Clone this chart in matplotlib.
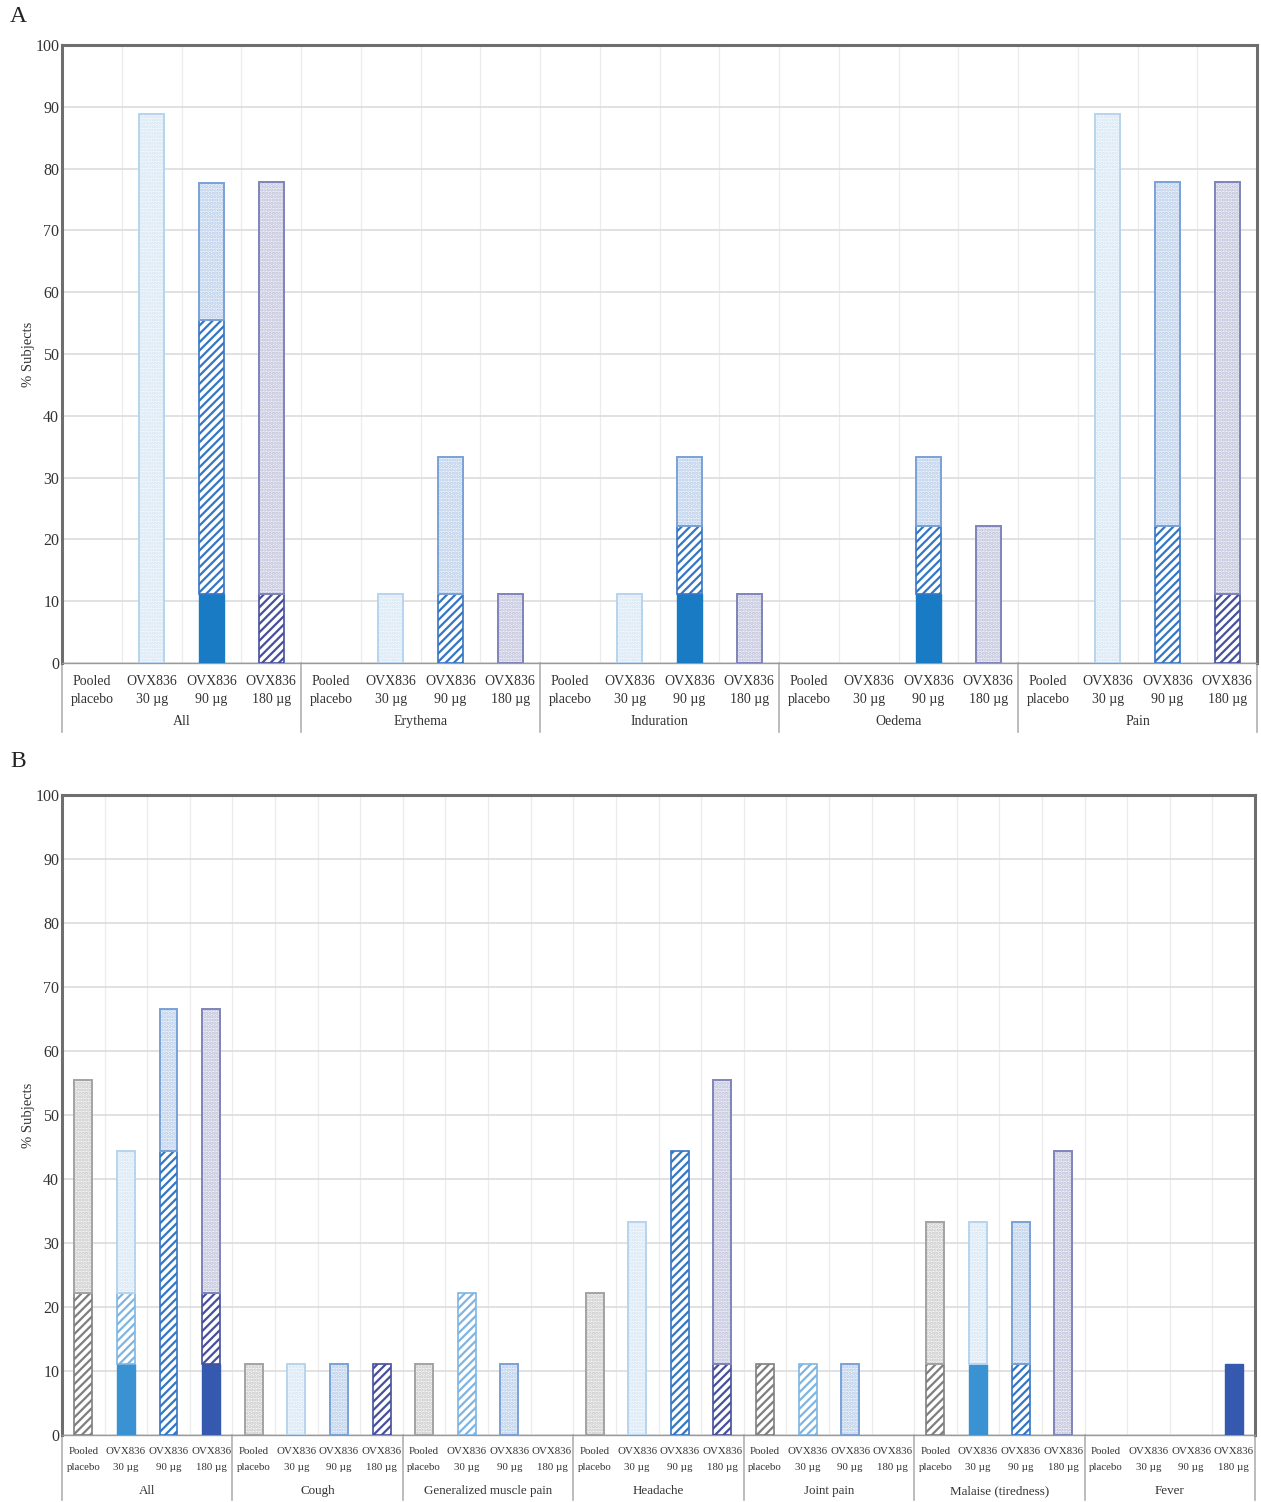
import matplotlib
matplotlib.use("Agg")
import matplotlib.pyplot as plt
import matplotlib.transforms as mtransforms
import numpy as np

# ----------------------------
# Data (% subjects, n=9 per group)
# ----------------------------
doses = ["Pooled\nplacebo", "OVX836\n30 µg", "OVX836\n90 µg", "OVX836\n180 µg"]

a_groups = ["All", "Erythema", "Induration", "Oedema", "Pain"]
a_severe = [0, 0, 11.1, 0,   0, 0, 0, 0,   0, 0, 11.1, 0,   0, 0, 11.1, 0,   0, 0, 0, 0]
a_moderate = [0, 0, 44.4, 11.1,   0, 0, 11.1, 0,   0, 0, 11.1, 0,   0, 0, 11.1, 0,   0, 0, 22.2, 11.1]
a_mild = [0, 88.9, 22.2, 66.7,   0, 11.1, 22.2, 11.1,   0, 11.1, 11.1, 11.1,   0, 0, 11.1, 22.2,   0, 88.9, 55.6, 66.7]

b_groups = ["All", "Cough", "Generalized muscle pain", "Headache", "Joint pain",
            "Malaise (tiredness)", "Fever"]
b_severe = [0, 11.1, 0, 11.1,   0, 0, 0, 0,   0, 0, 0, 0,   0, 0, 0, 0,
            0, 0, 0, 0,   0, 11.1, 0, 0,   0, 0, 0, 11.1]
b_moderate = [22.2, 11.1, 44.4, 11.1,   0, 0, 0, 11.1,   0, 22.2, 0, 0,   0, 0, 44.4, 11.1,
              11.1, 11.1, 0, 0,   11.1, 0, 11.1, 0,   0, 0, 0, 0]
b_mild = [33.3, 22.2, 22.2, 44.4,   11.1, 11.1, 11.1, 0,   11.1, 0, 11.1, 0,   22.2, 33.3, 0, 44.4,
          0, 0, 11.1, 0,   22.2, 22.2, 22.2, 44.4,   0, 0, 0, 0]

# ----------------------------
# Styles per dose group
# ----------------------------
mild_edge = ["#a3a3a3", "#b7d4ee", "#79a2d8", "#7f84ba"]
hatch_cols = ["#7f7f7f", "#7fb5e2", "#3576c4", "#46509c"]
mild_face = ["#f4f4f4", "#f5f9fd", "#edf2f9", "#efeff5"]
mild_dot = ["#c6c6c6", "#d3e4f4", "#b4cbe9", "#babdda"]
severe_cols = ["#888888", "#3a92d3", "#1a7bc5", "#3559ae"]

plt.rcParams['font.family'] = ['Liberation Serif', 'DejaVu Serif']
plt.rcParams['hatch.linewidth'] = 1.6

fig = plt.figure(figsize=(12.61, 15.02), dpi=100)
W, H = 1261, 1502


def draw_panel(rect, groups, severe, moderate, mild, label_fs, group_fs, sep_len, lsp, grp_off):
    ax = fig.add_axes(rect)
    n = len(severe)
    x = np.arange(n)
    sev = np.array(severe)
    mod = np.array(moderate)
    mil = np.array(mild)
    width = 0.42
    for i in range(n):
        d = i % 4
        if sev[i] > 0:
            ax.bar(x[i], sev[i], width, color=severe_cols[d],
                   edgecolor=severe_cols[d], linewidth=1, zorder=3)
        if mod[i] > 0:
            ax.bar(x[i], mod[i], width, bottom=sev[i], color="white",
                   edgecolor=hatch_cols[d], hatch="////", linewidth=0, zorder=3)
            ax.bar(x[i], mod[i], width, bottom=sev[i], fill=False,
                   edgecolor=hatch_cols[d], linewidth=1.2, zorder=4)
        if mil[i] > 0:
            ax.bar(x[i], mil[i], width, bottom=sev[i] + mod[i], color=mild_face[d],
                   edgecolor=mild_dot[d], hatch=".....", linewidth=0, zorder=3)
            ax.bar(x[i], mil[i], width, bottom=sev[i] + mod[i], fill=False,
                   edgecolor=mild_edge[d], linewidth=1.4, zorder=4)

    ax.set_xlim(-0.5, n - 0.5)
    ax.set_ylim(0, 100)
    ax.set_yticks(np.arange(0, 101, 10))
    ax.set_xticks(np.arange(-0.5, n, 0.5), minor=True)
    ax.grid(axis='y', color="#dcdcdc", linewidth=1.2, zorder=0)
    ax.grid(axis='x', which='minor', color="#ececec", linewidth=0.9, zorder=0)
    ax.set_axisbelow(True)

    ax.set_xticks(x)
    ax.set_xticklabels([doses[i % 4] for i in range(n)], fontsize=label_fs,
                       color="#333333", linespacing=lsp)
    ax.tick_params(axis='x', which='both', length=0, pad=9)
    ax.tick_params(axis='y', length=0, pad=2, labelsize=11.5, labelcolor="#333333")
    ax.set_ylabel("% Subjects", fontsize=10.5, color="#333333", labelpad=0)

    for s in ["left", "top", "right"]:
        ax.spines[s].set_color("#6e6e6e")
        ax.spines[s].set_linewidth(2.2)
    ax.spines["bottom"].set_color("#9a9a9a")
    ax.spines["bottom"].set_linewidth(1.0)

    trans = mtransforms.blended_transform_factory(ax.transData, ax.transAxes)
    h_ax = rect[3] * H
    for g in range(len(groups) + 1):
        xs = g * 4 - 0.5
        ax.plot([xs, xs], [0, -sep_len / h_ax], transform=trans, color="#b0b0b0",
                linewidth=1.2, clip_on=False)
    for g, name in enumerate(groups):
        ax.text(g * 4 + 1.5, -grp_off / h_ax, name, transform=trans,
                ha='center', va='center', fontsize=group_fs, color="#333333")
    return ax


# Panel A
a_rect = [62 / W, 1 - 663 / H, (1257 - 62) / W, (663 - 45) / H]
draw_panel(a_rect, a_groups, a_severe, a_moderate, a_mild, 10, 10, 69, 1.45, 59)
fig.text(10 / W, 1 - 16 / H, "A", fontsize=17, va='center', ha='left', color="#222222")

# Panel B
b_rect = [62 / W, 1 - 1435 / H, (1255 - 62) / W, (1435 - 795) / H]
draw_panel(b_rect, b_groups, b_severe, b_moderate, b_mild, 7.8, 9.4, 65, 1.9, 56)
fig.text(10 / W, 1 - 762 / H, "B", fontsize=17, va='center', ha='left', color="#222222")

plt.savefig("out.png", dpi=100)
plt.close()
